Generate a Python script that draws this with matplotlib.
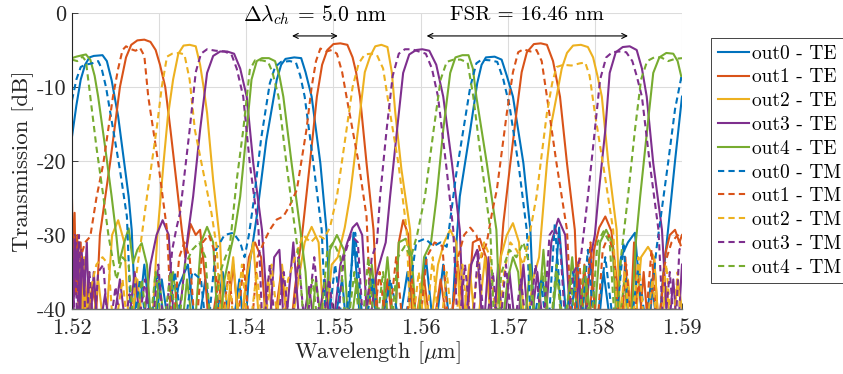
import matplotlib
matplotlib.use("Agg")
import matplotlib.pyplot as plt
from matplotlib.ticker import FixedLocator, FixedFormatter

plt.rcParams['font.family'] = ['cmr10', 'DejaVu Serif']
plt.rcParams['mathtext.fontset'] = 'cm'
plt.rcParams['axes.unicode_minus'] = False

# ---------------- data (wavelength in nm, transmission in dB) ----------------
te0 = [(1520.0,-16.7),(1520.5,-12.5),(1521.0,-9.0),(1521.5,-7.0),(1522.0,-6.0),(1522.5,-5.8),(1523.5,-5.7),(1524.0,-6.5),(1524.55,-9.1),(1525.3,-14.0),(1525.9,-19.4),(1526.5,-24.8),(1526.85,-29.3),(1527.4,-44),
       (1528.3,-34),(1529.2,-44),(1530.3,-36),(1531.3,-44),(1532.2,-37),(1533.3,-34),(1534.3,-44),(1535.3,-36),(1536.3,-44),(1537.3,-35),(1538.3,-44),(1539.2,-36),(1539.8,-44),
       (1540.4,-33.8),(1541.2,-27.5),(1542.3,-17.2),(1543.5,-9.0),(1544.0,-7.0),(1544.5,-6.2),(1545.5,-6.0),(1546.3,-6.1),(1546.8,-8.0),(1547.5,-11.3),(1548.5,-20.3),(1549.2,-29.3),(1549.8,-44),
       (1551.0,-36),(1551.6,-44),(1552.3,-29.7),(1553.2,-44),(1554.3,-36),(1555.3,-44),(1556.3,-37),(1557.3,-44),(1558.5,-35),(1559.5,-44),(1560.6,-33),(1561.6,-44),(1562.6,-34),(1563.5,-44),
       (1564.0,-33),(1564.5,-24.8),(1565.7,-15.8),(1566.5,-9.5),(1567.0,-7.0),(1567.5,-6.0),(1568.5,-5.9),(1569.3,-6.3),(1569.9,-8.5),(1570.6,-11.3),(1571.8,-20.3),(1572.6,-29.3),(1573.1,-44),
       (1574.0,-36),(1575.0,-44),(1575.9,-29),(1576.9,-44),(1578.0,-34),(1578.6,-44),(1579.5,-33),(1580.3,-44),(1581.0,-35),(1582.0,-44),(1583.0,-33),(1583.8,-31),(1584.6,-29.7),(1585.6,-44),(1586.5,-36),(1587.3,-44),(1587.8,-36),(1588.4,-29.3),(1589.2,-20),(1590.0,-11.3)]

te1 = [(1520.0,-25.3),(1520.15,-35),(1520.3,-27),(1520.45,-38),(1520.6,-30),(1520.8,-44),(1521.0,-31),(1521.2,-44),(1521.5,-36),(1521.9,-44),(1522.3,-37),(1522.8,-40),
       (1523.2,-30),(1524.4,-20),(1525.5,-10),(1526.2,-6),(1526.8,-4.3),(1527.5,-3.7),(1528.3,-3.6),(1529.0,-3.9),(1529.6,-5.0),(1530.1,-7.0),(1530.7,-10),(1531.3,-15.8),(1532.0,-23),(1532.6,-29.3),
       (1533.0,-33),(1533.6,-28.5),(1534.2,-30),(1534.7,-29.3),(1535.3,-36),(1535.8,-44),(1536.8,-36),(1537.6,-44),(1538.5,-34),(1539.3,-44),(1540.3,-33),(1541.0,-31),(1541.7,-33),(1542.4,-44),(1543.0,-44),(1544.0,-35),(1545.0,-44),(1545.6,-37),
       (1546.4,-30),(1547.3,-20.3),(1548.1,-11.3),(1548.7,-7),(1549.3,-5),(1550.0,-4.2),(1550.8,-4.1),(1551.6,-4.3),(1552.2,-6),(1552.6,-8),(1553.05,-11.3),(1553.8,-20.3),(1554.6,-29.3),(1555.2,-44),
       (1556.2,-36),(1557.0,-44),(1557.5,-31),(1558.0,-28),(1558.6,-30),(1559.2,-44),(1560.3,-35),(1561.3,-44),(1562.3,-36),(1563.3,-44),(1564.3,-34),(1565.2,-44),(1566.0,-31),(1566.8,-30.5),(1567.5,-33),(1568.3,-44),(1569.0,-36),
       (1569.5,-28.4),(1570.3,-20.3),(1571.0,-13.5),(1571.6,-8),(1572.2,-5.3),(1573.0,-4.2),(1573.8,-4.1),(1574.5,-4.3),(1575.2,-6.5),(1576.0,-11.3),(1576.8,-20.3),(1577.7,-29.3),(1578.2,-44),
       (1578.8,-34),(1579.3,-44),(1579.9,-32),(1580.5,-29),(1581.2,-27.5),(1581.9,-29.5),(1582.5,-36),(1583.0,-44),(1583.5,-33),(1584.0,-44),(1584.5,-31),(1585.0,-44),(1585.6,-35),(1586.2,-44),(1586.8,-33),(1587.4,-44),(1588.0,-33),(1588.6,-30),(1589.2,-29.3),(1589.7,-31),(1590.0,-30)]

te2 = [(1520.0,-44),(1520.7,-44),(1520.9,-34),(1521.1,-44),(1521.4,-33),(1521.6,-44),(1521.9,-35),(1522.2,-44),(1523.0,-36),(1523.8,-44),(1524.6,-30),(1525.3,-28),(1526.0,-31),(1526.6,-44),(1527.5,-36),(1528.3,-44),(1529.3,-40),
       (1529.8,-30),(1530.5,-20.3),(1531.0,-14),(1531.6,-9),(1532.2,-5.5),(1532.8,-4.4),(1533.5,-4.3),(1534.2,-4.5),(1534.7,-7),(1535.1,-10),(1535.5,-13.5),(1536.2,-22.6),(1537.0,-31.1),(1537.5,-44),
       (1538.5,-33),(1539.2,-44),(1540.0,-36),(1540.8,-31),(1541.6,-44),(1542.5,-36),(1543.3,-44),(1544.1,-34),(1545.0,-44),(1546.0,-36),(1546.7,-31),(1547.5,-28.9),(1548.3,-31),(1549.0,-44),(1549.8,-34),(1550.5,-33),(1551.3,-29),
       (1551.9,-24.8),(1553.05,-13.5),(1553.6,-8),(1554.2,-5.9),(1554.8,-4.5),(1555.5,-4.3),(1556.2,-4.6),(1556.7,-8),(1557.1,-13.5),(1557.8,-21.1),(1558.8,-29.3),(1559.3,-44),
       (1560.2,-36),(1561.0,-44),(1562.0,-34),(1562.7,-31),(1563.4,-29.3),(1564.1,-31),(1564.7,-44),(1565.6,-34),(1566.4,-44),(1567.4,-33),(1568.3,-44),(1569.2,-33),(1569.9,-30),(1570.6,-28.4),(1571.3,-31),(1572.0,-44),(1572.9,-36),(1573.6,-33),
       (1574.5,-20.3),(1575.0,-15),(1575.6,-11.3),(1576.2,-7.5),(1576.8,-5.4),(1577.5,-4.4),(1578.4,-4.3),(1579.2,-4.6),(1579.8,-6),(1580.3,-8.5),(1580.8,-11.3),(1581.55,-20.3),(1582.5,-29.3),(1583.0,-44),
       (1583.8,-36),(1584.5,-44),(1585.3,-33),(1586.1,-31.6),(1586.8,-33),(1587.4,-44),(1588.2,-37),(1588.9,-44),(1589.5,-36),(1590.0,-40)]

te3 = [(1520.0,-32),(1520.15,-44),(1520.3,-30),(1520.5,-36),(1520.7,-31),(1520.9,-44),(1521.1,-32),(1521.4,-38),(1521.7,-31),(1522.0,-44),(1522.5,-35),(1523.0,-44),(1523.8,-38),(1524.5,-44),(1525.5,-36),(1526.3,-44),(1527.2,-35),(1528.0,-44),(1529.0,-34),(1529.7,-30),(1530.4,-28),(1531.1,-30),(1531.8,-44),(1532.6,-38),
       (1533.3,-30),(1533.9,-24.8),(1534.7,-15.8),(1535.5,-8.1),(1536.2,-5.8),(1537.0,-5.2),(1537.8,-5.2),(1538.6,-5.5),(1539.3,-7.5),(1540.05,-11.3),(1540.8,-20.3),(1541.8,-29.3),(1542.2,-36.5),(1542.6,-44),
       (1543.2,-33),(1543.8,-32),(1544.4,-44),(1545.4,-31),(1546.2,-44),(1547.2,-37),(1548.0,-44),(1549.0,-36),(1549.8,-44),(1550.8,-34),(1551.6,-31),(1552.2,-29),(1552.7,-28.4),(1553.3,-30),(1554.0,-44),(1554.8,-36),(1555.5,-33),
       (1556.0,-31),(1556.5,-24.8),(1557.3,-15.8),(1558.0,-8.1),(1558.7,-5.6),(1559.5,-5.0),(1560.2,-4.9),(1561.0,-5.1),(1561.8,-7),(1562.6,-11.3),(1563.6,-20.3),(1564.5,-29.3),(1565.0,-44),
       (1565.8,-34),(1566.5,-32),(1567.2,-44),(1567.8,-33),(1568.3,-44),(1568.9,-34),(1569.5,-44),(1570.2,-35),(1571.0,-44),(1571.8,-34),(1572.5,-44),(1573.4,-35),(1574.2,-44),(1575.0,-31),(1575.8,-27.8),(1576.6,-30),(1577.3,-44),(1578.2,-36),(1578.8,-44),(1579.5,-33),
       (1580.0,-30),(1580.4,-24.8),(1581.2,-15.8),(1581.7,-8.1),(1582.4,-5.3),(1583.2,-4.6),(1584.0,-4.5),(1584.8,-5.0),(1585.4,-7.5),(1585.95,-11.3),(1586.7,-20.3),(1587.7,-29.3),(1588.4,-44),
       (1589.0,-36),(1589.5,-44),(1590.0,-34)]

te4 = [(1520.0,-6.1),(1520.5,-5.9),(1521.2,-5.7),(1521.6,-5.6),(1522.1,-6.3),(1522.6,-8.5),(1523.0,-11.3),(1523.8,-18.1),(1524.55,-24.8),(1525.1,-30.2),(1525.4,-33.8),(1526.0,-31),(1526.5,-29.1),(1527.0,-33.8),(1527.5,-32),(1528.0,-31.1),(1528.6,-34),(1529.2,-44),(1530.0,-36),(1530.8,-44),(1531.6,-35),(1532.5,-44),(1533.2,-36),(1534.0,-44),(1534.8,-31),(1535.5,-28.9),(1536.2,-31),(1536.8,-44),(1537.5,-36),(1538.2,-32),
       (1538.7,-29.3),(1539.3,-24.8),(1540.05,-15.8),(1540.6,-9),(1541.2,-6.5),(1541.8,-6.1),(1542.6,-6.1),(1543.3,-6.5),(1543.8,-8.5),(1544.25,-11.3),(1545.2,-20.3),(1546.2,-29.3),(1546.8,-35),(1547.3,-44),
       (1548.0,-36),(1548.8,-44),(1549.6,-32),(1550.4,-30),(1551.2,-32),(1551.8,-44),(1552.7,-36),(1553.5,-44),(1554.4,-34),(1555.3,-44),(1556.2,-33),(1557.0,-44),(1557.5,-31),(1558.3,-30.5),(1559.0,-33),(1559.6,-44),(1560.4,-33),(1561.2,-31),
       (1561.85,-24.8),(1562.6,-15.8),(1563.4,-8.1),(1564.0,-6),(1564.8,-5.7),(1565.5,-5.7),(1566.0,-7.5),(1566.4,-11.3),(1567.6,-20.3),(1568.7,-29.3),(1569.2,-44),
       (1570.0,-36),(1570.6,-33),(1571.2,-35),(1571.8,-44),(1572.6,-34),(1573.3,-44),(1574.1,-32),(1574.8,-44),(1575.7,-35),(1576.5,-44),(1577.4,-33),(1578.2,-44),(1579.0,-36),(1579.8,-44),(1580.6,-31),(1581.3,-29.3),(1582.0,-31),(1582.6,-44),(1583.4,-36),(1584.1,-44),(1584.7,-31),
       (1585.2,-24.8),(1586.0,-15.8),(1586.7,-8.1),(1587.4,-6),(1588.2,-5.4),(1589.0,-5.5),(1589.5,-6.5),(1590.0,-9)]

tm0 = [(1520.0,-11.8),(1520.5,-9.0),(1521.0,-7.3),(1521.5,-7.0),(1522.3,-6.8),(1523.0,-6.5),(1523.4,-7.5),(1523.9,-10.0),(1524.4,-13.5),(1525.5,-21.2),(1526.3,-27.5),(1526.85,-44),
       (1527.8,-36),(1528.8,-44),(1529.8,-35),(1530.8,-44),(1531.8,-35),(1532.8,-44),(1533.8,-35),(1534.8,-36),(1535.5,-44),(1536.5,-32),(1537.5,-30),(1538.5,-29.7),(1539.3,-31),(1539.8,-33),
       (1540.3,-30),(1540.9,-25),(1541.7,-17),(1542.7,-9.5),(1543.3,-7.3),(1544.0,-6.6),(1545.0,-6.5),(1545.7,-6.7),(1546.2,-8.5),(1546.7,-11.3),(1547.7,-20.3),(1548.65,-29.3),(1549.2,-44),
       (1550.2,-34),(1551.2,-44),(1552.5,-29.7),(1553.5,-44),(1554.5,-36),(1555.5,-44),(1556.5,-36),(1558.0,-44),(1559.5,-31),(1560.5,-30.5),(1561.5,-31.5),(1562.3,-31),(1563.0,-31.6),
       (1564.1,-21.7),(1565.7,-10.0),(1566.4,-6.8),(1567.0,-6.3),(1568.0,-6.4),(1568.8,-6.6),(1569.5,-9.0),(1570.2,-12.5),(1571.3,-21.0),(1572.2,-29.5),(1572.7,-44),
       (1573.8,-36),(1574.6,-44),(1575.4,-28.5),(1576.4,-44),(1577.5,-35),(1578.3,-44),(1579.2,-32),(1580.0,-44),(1581.2,-33),(1582.3,-44),(1583.3,-31),(1584.0,-44),(1585.0,-34),(1586.0,-44),(1587.1,-31.6),(1588.4,-20.3),(1589.2,-13.0),(1590.0,-8.2)]

tm1 = [(1520.0,-29.7),(1520.5,-31),(1521.0,-33),(1521.5,-31),(1522.1,-30.2),(1522.8,-25),(1523.6,-20.3),(1524.7,-11.3),(1525.3,-7.5),(1525.8,-5.0),(1526.2,-4.5),(1526.8,-4.9),(1527.3,-5.1),(1527.8,-4.7),(1528.3,-5.8),(1528.75,-11.3),(1529.9,-20.3),(1530.9,-29.3),(1531.5,-44),
       (1532.3,-33),(1532.9,-31),(1533.5,-33),(1534.2,-44),(1535.0,-31),(1535.7,-30),(1536.3,-32),(1537.0,-44),(1538.0,-35),(1538.8,-44),(1539.7,-34),(1540.5,-44),(1541.3,-33),(1542.0,-31),(1542.7,-29.3),(1543.5,-27.9),(1544.25,-27.5),(1545.0,-26),
       (1545.8,-23.9),(1546.9,-15.8),(1547.5,-10),(1548.0,-6.5),(1548.5,-4.8),(1549.2,-5.2),(1549.8,-5.0),(1550.4,-5.5),(1551.0,-8),(1551.5,-11.3),(1552.9,-20.3),(1553.8,-27.5),(1554.4,-44),
       (1555.3,-35),(1556.2,-44),(1557.2,-33),(1558.1,-44),(1559.0,-36),(1559.8,-44),(1560.7,-33),(1561.6,-31),(1562.5,-31.5),(1563.3,-44),(1564.3,-33),(1565.0,-30),(1565.7,-29),(1566.4,-30),(1567.0,-33),(1567.6,-31),(1568.2,-27),
       (1568.75,-23.9),(1569.9,-13.5),(1570.6,-8),(1571.2,-5.3),(1571.8,-4.9),(1572.6,-5.2),(1573.3,-5.0),(1573.9,-6.5),(1574.5,-11.3),(1575.6,-20.3),(1576.8,-29.3),(1577.4,-44),
       (1578.2,-33),(1578.8,-44),(1579.5,-31),(1580.2,-44),(1580.9,-32),(1581.6,-30),(1582.2,-33),(1582.9,-44),(1583.6,-34),(1584.3,-44),(1585.0,-36),(1585.7,-44),(1586.5,-32),(1587.2,-44),(1588.0,-34),(1588.8,-31),(1589.5,-30),(1590.0,-32)]

tm2 = [(1520.0,-44),(1521.2,-44),(1522.0,-38),(1522.8,-34),(1523.5,-33),(1524.2,-34),(1524.8,-44),(1525.8,-36),(1526.5,-44),(1527.3,-36),(1527.9,-31),
       (1528.6,-24.8),(1529.7,-15.8),(1530.3,-10),(1530.9,-5.9),(1531.5,-5.5),(1532.3,-5.4),(1532.9,-5.6),(1533.5,-9),(1534.1,-15.8),(1535.1,-21.7),(1536.0,-27),(1536.6,-31.6),(1537.2,-44),
       (1538.0,-35),(1538.7,-44),(1539.5,-34),(1540.3,-44),(1541.2,-35),(1542.0,-44),(1542.9,-34),(1543.8,-44),(1544.8,-36),(1545.6,-33),(1546.5,-30),(1547.4,-31),(1548.2,-30),(1548.9,-30.5),(1549.6,-29),
       (1550.4,-24.8),(1551.5,-15.8),(1552.2,-10),(1552.9,-6.8),(1553.6,-5.6),(1554.3,-5.5),(1555.0,-5.7),(1555.7,-7.5),(1556.5,-13.5),(1557.45,-20.3),(1558.4,-29.3),(1558.9,-44),
       (1559.8,-35),(1560.5,-44),(1561.4,-33),(1562.2,-44),(1563.0,-35),(1563.8,-44),(1564.8,-34),(1565.6,-44),(1566.5,-35),(1567.3,-31),(1568.0,-33),(1568.8,-44),(1569.6,-35),(1570.3,-31),(1571.0,-32),(1571.8,-34),(1572.5,-30),
       (1573.3,-24.8),(1574.5,-13.5),(1575.1,-9.5),(1575.6,-7.3),(1576.4,-7.0),(1577.3,-7.1),(1578.3,-6.8),(1578.9,-6.7),(1579.4,-8.5),(1580.0,-13.5),(1581.2,-22.4),(1582.1,-29.3),(1582.7,-44),
       (1583.4,-35),(1584.2,-44),(1585.0,-33),(1585.8,-44),(1586.6,-36),(1587.3,-44),(1588.2,-34),(1588.9,-44),(1589.5,-35),(1590.0,-44)]

tm3 = [(1520.0,-29),(1520.2,-40),(1520.4,-31),(1520.6,-44),(1520.8,-30),(1521.0,-36),(1521.3,-33),(1521.6,-44),(1522.0,-35),(1522.5,-44),(1523.0,-35),(1523.6,-34),(1524.2,-44),(1525.0,-37),(1525.8,-44),(1526.6,-38),(1527.4,-44),(1528.4,-36),(1529.1,-44),(1529.9,-34),(1530.6,-44),(1531.5,-32),(1532.0,-29),(1532.4,-27),
       (1533.5,-15.8),(1534.2,-8),(1534.8,-5.5),(1535.5,-4.9),(1536.5,-5.1),(1537.5,-5.2),(1538.3,-5.6),(1538.9,-7.5),(1539.65,-11.3),(1540.4,-20.3),(1541.4,-29.3),(1541.9,-44),
       (1542.7,-34),(1543.4,-44),(1544.3,-35),(1545.1,-44),(1546.0,-33),(1546.8,-44),(1547.8,-33),(1548.6,-44),(1549.5,-36),(1550.3,-44),(1551.2,-33),(1552.0,-30),(1552.8,-31),(1553.5,-44),(1554.4,-33),(1555.0,-31),
       (1555.35,-24.8),(1556.1,-15.8),(1556.8,-8.5),(1557.5,-5.5),(1558.2,-4.9),(1559.0,-4.9),(1559.8,-5.2),(1560.6,-5.5),(1561.3,-7.5),(1562.0,-11.3),(1563.0,-21.2),(1563.75,-29.3),(1564.3,-44),
       (1565.1,-34),(1565.9,-44),(1566.6,-32),(1567.4,-44),(1568.3,-35),(1569.0,-44),(1569.8,-34),(1570.6,-44),(1571.5,-36),(1572.3,-44),(1573.2,-34),(1574.0,-44),(1574.8,-30),(1575.4,-29),(1576.0,-31),(1576.7,-44),(1577.6,-35),(1578.4,-33),
       (1579.2,-24.8),(1580.0,-15.8),(1580.6,-9),(1581.3,-6),(1582.0,-5.3),(1582.8,-5.2),(1583.6,-5.3),(1584.3,-6.5),(1584.8,-8.5),(1585.4,-11.3),(1586.3,-20.3),(1587.3,-29.3),(1587.9,-44),
       (1588.6,-35),(1589.2,-44),(1589.7,-32),(1590.0,-31.3)]

tm4 = [(1520.0,-6.3),(1520.6,-6.5),(1521.2,-5.9),(1521.6,-6.5),(1522.1,-11.3),(1522.8,-18.1),(1523.6,-24.8),(1524.2,-30.2),(1525.1,-36),(1525.8,-33),(1526.5,-34),(1527.2,-44),(1528.0,-36),(1528.8,-44),(1529.6,-35),(1530.4,-44),(1531.3,-35),(1532.1,-44),(1533.0,-34),(1533.8,-32),(1534.6,-31),(1535.3,-33),(1536.0,-44),(1537.0,-35),(1537.6,-33),
       (1538.1,-31.6),(1538.9,-22.6),(1539.65,-15.8),(1540.4,-7.7),(1541.0,-6.4),(1541.8,-6.4),(1542.5,-6.6),(1543.0,-8),(1543.7,-11.3),(1544.6,-20.3),(1545.6,-29.3),(1546.1,-33.8),(1546.7,-44),
       (1547.6,-36),(1548.4,-44),(1549.3,-32),(1550.0,-31),(1550.8,-33),(1551.5,-44),(1552.4,-35),(1553.2,-44),(1554.0,-33),(1554.8,-44),(1555.7,-35),(1556.5,-44),(1557.4,-33),(1558.2,-31.5),(1558.9,-33),(1559.6,-30),
       (1560.5,-24.8),(1561.5,-15.8),(1562.3,-9),(1563.0,-6.6),(1563.8,-6.3),(1564.6,-6.3),(1565.4,-6.7),(1566.05,-11.3),(1567.0,-20.3),(1568.0,-29.3),(1568.5,-44),
       (1569.3,-35),(1570.2,-32),(1571.0,-33),(1571.8,-31),(1572.5,-34),(1573.2,-44),(1574.0,-35),(1574.8,-44),(1575.6,-34),(1576.3,-44),(1577.2,-36),(1578.0,-44),(1578.8,-34),(1579.5,-44),(1580.3,-31),(1581.0,-29.5),(1581.7,-31),(1582.4,-44),(1583.0,-33),
       (1583.8,-24.8),(1584.6,-15.8),(1585.3,-9),(1586.0,-6.5),(1586.8,-6.0),(1587.6,-6.0),(1588.4,-6.5),(1589.2,-6.2),(1590.0,-6.1)]

series_te = [te0, te1, te2, te3, te4]
series_tm = [tm0, tm1, tm2, tm3, tm4]
labels_te = ['out0 - TE', 'out1 - TE', 'out2 - TE', 'out3 - TE', 'out4 - TE']
labels_tm = ['out0 - TM', 'out1 - TM', 'out2 - TM', 'out3 - TM', 'out4 - TM']
colors = ['#0072BD', '#D95319', '#EDB120', '#7E2F8E', '#77AC30']

xticks = [1.52, 1.53, 1.54, 1.55, 1.56, 1.57, 1.58, 1.59]
xticklabels = ['1.52', '1.53', '1.54', '1.55', '1.56', '1.57', '1.58', '1.59']
yticks = [-40, -30, -20, -10, 0]
yticklabels = ['-40', '-30', '-20', '-10', '0']

ch_arrow = (1.54525, 1.5505)   # channel spacing arrow ends (um)
fsr_arrow = (1.5607, 1.5838)   # FSR arrow ends (um)

# ---------------- figure ----------------
W, H = 843, 374
fig = plt.figure(figsize=(W/100, H/100), dpi=100)
ax = fig.add_axes([72/W, 1-309/H, 610/W, 296/H])

for pts, lab, c in zip(series_te, labels_te, colors):
    ax.plot([p[0]/1000 for p in pts], [p[1] for p in pts], color=c, lw=1.5, label=lab)
for pts, lab, c in zip(series_tm, labels_tm, colors):
    ax.plot([p[0]/1000 for p in pts], [p[1] for p in pts], color=c, lw=1.5,
            ls=(0, (3, 2)), label=lab)

ax.set_xlim(1.52, 1.59)
ax.set_ylim(-40, 0)
ax.xaxis.set_major_locator(FixedLocator(xticks))
ax.xaxis.set_major_formatter(FixedFormatter(xticklabels))
ax.yaxis.set_major_locator(FixedLocator(yticks))
ax.yaxis.set_major_formatter(FixedFormatter(yticklabels))
ax.tick_params(direction='in', length=4, width=0.6, colors='#262626',
               labelsize=16, labelcolor='#262626')
ax.tick_params(axis='x', pad=7)
ax.tick_params(axis='y', pad=4)
ax.grid(True, color='#dcdcdc', lw=0.8)
ax.set_axisbelow(True)
for s in ['top', 'right']:
    ax.spines[s].set_visible(False)
ax.spines['left'].set_color('#262626')
ax.spines['bottom'].set_color('#6e6e6e')
ax.spines['left'].set_linewidth(0.8)
ax.spines['bottom'].set_linewidth(1.0)

ax.set_xlabel(r'Wavelength [$\mu$m]', fontsize=16, color='#262626', labelpad=1)
ax.set_ylabel('Transmission [dB]', fontsize=16.5, color='#262626', labelpad=2)

ax.annotate('', xy=(ch_arrow[1], -3.1), xytext=(ch_arrow[0], -3.1),
            arrowprops=dict(arrowstyle='<->', lw=0.8, color='k', shrinkA=0, shrinkB=0,
                            mutation_scale=9), annotation_clip=False)
ax.annotate('', xy=(fsr_arrow[1], -3.1), xytext=(fsr_arrow[0], -3.1),
            arrowprops=dict(arrowstyle='<->', lw=0.8, color='k', shrinkA=0, shrinkB=0,
                            mutation_scale=9), annotation_clip=False)
ax.text(1.5479, -0.3, r'$\Delta\lambda_{ch}$ = 5.0 nm', ha='center', va='center',
        fontsize=15.5, clip_on=False)
ax.text(1.5722, -0.3, 'FSR = 16.46 nm', ha='center', va='center',
        fontsize=15, clip_on=False)

leg = ax.legend(loc='upper left', bbox_to_anchor=(711/W, 1-38/H), bbox_transform=fig.transFigure,
                borderaxespad=0, fontsize=14, frameon=True, fancybox=False,
                edgecolor='#262626', framealpha=1, handlelength=1.6, handletextpad=0.15,
                labelspacing=0.3, borderpad=0.35)
leg.get_frame().set_linewidth(0.6)

fig.savefig('out.png', dpi=100)
